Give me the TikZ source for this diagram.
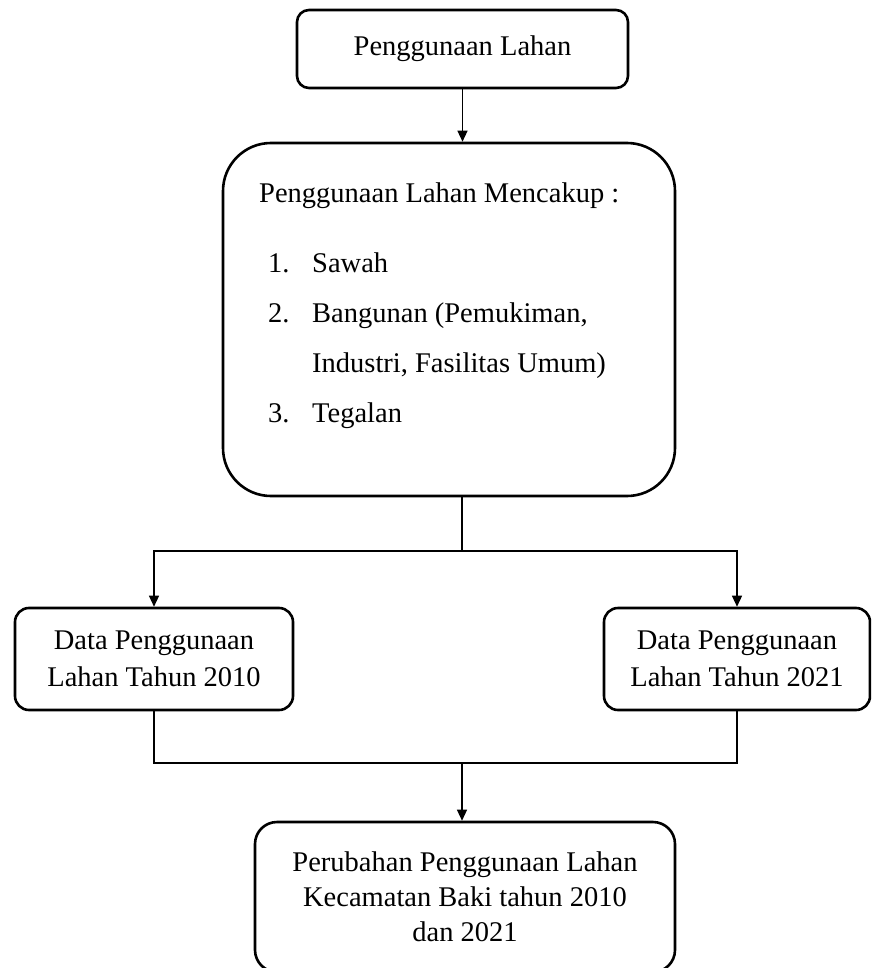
\documentclass[tikz,border=0pt]{standalone}
\usepackage{fontspec}
\setmainfont{Liberation Serif}
\usetikzlibrary{arrows.meta}

\tikzset{
  box/.style={draw, line width=2.6pt, align=center, inner sep=0pt, font=\fontsize{28.5}{37}\selectfont},
  listtext/.style={anchor=base west, inner sep=0pt, font=\fontsize{28.5}{37}\selectfont},
  link/.style={line width=1.3pt},
  linkarrow/.style={link, -{Triangle[length=11pt,width=10pt]}},
}

\begin{document}
\begin{tikzpicture}[x=1pt,y=1pt,yscale=-1,xscale=1]
%set diagram frame, same size as the scan
\useasboundingbox (0,0) rectangle (871,968);
\clip (0,0) rectangle (871,968);

%Rounded Rect: top box
\node [box, rounded corners=12pt, minimum width=331pt, minimum height=78pt] (use) at (462.5,49) {Penggunaan Lahan};
%Rounded Rect: big box
\node [box, rounded corners=48pt, minimum width=452pt, minimum height=353pt] (scope) at (449,319.5) {};

% Text Node
\node [listtext] (head) at (259,203) {Penggunaan Lahan Mencakup :};
% Text Node
\node [listtext] (num1) at (268,272) {1.};
\node [listtext] (sawah) at (312,272) {Sawah};
% Text Node
\node [listtext] (num2) at (268,322) {2.};
\node [listtext] (bangunan) at (312,322) {Bangunan (Pemukiman,};
\node [listtext] (industri) at (312,372) {Industri, Fasilitas Umum)};
% Text Node
\node [listtext] (num3) at (268,422) {3.};
\node [listtext] (tegalan) at (312,422) {Tegalan};

%Rounded Rect: data boxes
\node [box, rounded corners=14pt, minimum width=278pt, minimum height=102pt] (d2010) at (154,659) {Data Penggunaan\\Lahan Tahun 2010};
\node [box, rounded corners=14pt, minimum width=266pt, minimum height=102pt] (d2021) at (737,659) {Data Penggunaan\\Lahan Tahun 2021};
%Rounded Rect: result box
\node [box, rounded corners=22pt, minimum width=420pt, minimum height=150pt, font=\fontsize{28.5}{35}\selectfont] (change) at (465,897) {Perubahan Penggunaan Lahan\\Kecamatan Baki tahun 2010\\dan 2021};

%Straight Lines
\coordinate (split) at (462,551);
\coordinate (merge) at (462,763);
\draw [linkarrow] (use.south) -- (use.south |- scope.north);
\draw [link] (split |- scope.south) -- (split);
\draw [linkarrow] (split) -| (d2010.north);
\draw [linkarrow] (split) -| (d2021.north);
\draw [link] (d2010.south) |- (merge) -| (d2021.south);
\draw [linkarrow] (merge) -- (merge |- change.north);

\end{tikzpicture}
\end{document}
